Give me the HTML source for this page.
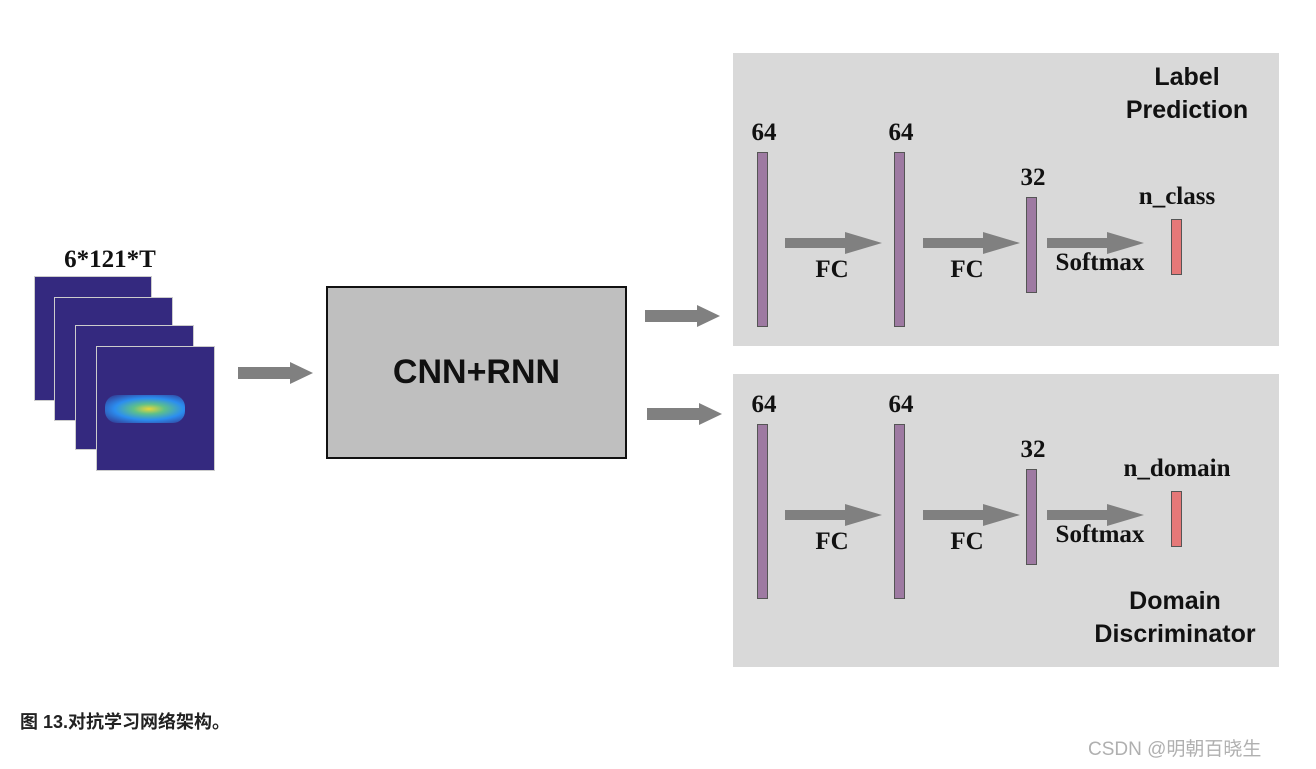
<!DOCTYPE html>
<html><head><meta charset="utf-8"><style>
body{margin:0;background:#fff;width:1316px;height:769px;overflow:hidden;position:relative;font-family:"Liberation Sans","Noto Sans CJK SC",sans-serif}
.a{position:absolute}
.panel{position:absolute;left:733px;width:546px;height:293px;background:#d9d9d9}
.bar{position:absolute;background:#9e7aa2;border:1px solid #555;box-sizing:border-box}
.red{position:absolute;background:#e57878;border:1px solid #555;box-sizing:border-box}
.t{position:absolute;font-family:"Liberation Serif",serif;font-weight:bold;font-size:25px;color:#111;white-space:nowrap;transform:translateX(-50%)}
.h{position:absolute;font-weight:bold;font-size:25px;color:#111;text-align:center;line-height:33px;transform:translateX(-50%)}
.f{position:absolute;background:#34297f;border:1px solid #ccc;box-sizing:border-box;overflow:hidden}
</style></head><body>
<svg class="a" style="left:0;top:0" width="1316" height="769">
<defs><g id="ar"><rect x="0" y="-5" width="74" height="10" fill="#808080"/><polygon points="60,-11 97,0 60,11" fill="#808080"/></g>
<g id="ar2"><rect x="0" y="-6" width="58" height="12" fill="#808080"/><polygon points="52,-11 75,0 52,11" fill="#808080"/></g></defs>
</svg>
<div class="f" style="left:34px;top:276px;width:118px;height:125px"></div>
<div class="f" style="left:54px;top:297px;width:119px;height:124px"></div>
<div class="f" style="left:75px;top:325px;width:119px;height:125px"></div>
<div class="f" style="left:96px;top:346px;width:119px;height:125px">
<div class="a" style="left:8px;top:48px;width:80px;height:28px;border-radius:12px;background:radial-gradient(ellipse at 55% 50%,#e8d63a 0,#5ec08a 25%,#2b8ef0 55%,#34297f 100%)"></div></div>
<div class="t" style="left:110px;top:246px">6*121*T</div>
<svg class="a" style="left:0;top:0" width="1316" height="769">
<g transform="translate(238,373)"><use href="#ar2"/></g>
<g transform="translate(645,316)"><use href="#ar2"/></g>
<g transform="translate(647,414)"><use href="#ar2"/></g>
</svg>
<div class="a" style="left:326px;top:286px;width:301px;height:173px;background:#bfbfbf;border:2px solid #111;box-sizing:border-box;display:flex;align-items:center;justify-content:center;font-weight:bold;font-size:34px;color:#111">CNN+RNN</div>

<div class="panel" style="top:53px"></div>
<div class="panel" style="top:374px"></div>

<!-- top -->
<div class="bar" style="left:757px;top:152px;width:11px;height:175px"></div>
<div class="bar" style="left:894px;top:152px;width:11px;height:175px"></div>
<div class="bar" style="left:1026px;top:197px;width:11px;height:96px"></div>
<div class="red" style="left:1171px;top:219px;width:11px;height:56px"></div>
<div class="t" style="left:764px;top:119px">64</div>
<div class="t" style="left:901px;top:119px">64</div>
<div class="t" style="left:1033px;top:164px">32</div>
<div class="t" style="left:1177px;top:183px">n_class</div>
<div class="t" style="left:832px;top:256px">FC</div>
<div class="t" style="left:967px;top:256px">FC</div>
<div class="t" style="left:1100px;top:249px">Softmax</div>
<div class="h" style="left:1187px;top:61px">Label<br>Prediction</div>
<!-- bottom -->
<div class="bar" style="left:757px;top:424px;width:11px;height:175px"></div>
<div class="bar" style="left:894px;top:424px;width:11px;height:175px"></div>
<div class="bar" style="left:1026px;top:469px;width:11px;height:96px"></div>
<div class="red" style="left:1171px;top:491px;width:11px;height:56px"></div>
<div class="t" style="left:764px;top:391px">64</div>
<div class="t" style="left:901px;top:391px">64</div>
<div class="t" style="left:1033px;top:436px">32</div>
<div class="t" style="left:1177px;top:455px">n_domain</div>
<div class="t" style="left:832px;top:528px">FC</div>
<div class="t" style="left:967px;top:528px">FC</div>
<div class="t" style="left:1100px;top:521px">Softmax</div>
<div class="h" style="left:1175px;top:585px">Domain<br>Discriminator</div>

<svg class="a" style="left:0;top:0" width="1316" height="769">
<g transform="translate(785,243)"><use href="#ar"/></g>
<g transform="translate(923,243)"><use href="#ar"/></g>
<g transform="translate(1047,243)"><use href="#ar"/></g>
<g transform="translate(785,515)"><use href="#ar"/></g>
<g transform="translate(923,515)"><use href="#ar"/></g>
<g transform="translate(1047,515)"><use href="#ar"/></g>
</svg>

<div class="a" style="left:20px;top:708px;font-weight:bold;font-size:18px;color:#222">图 13.对抗学习网络架构。</div>
<div class="a" style="left:1088px;top:734px;font-size:19px;color:#b0b0b0">CSDN @明朝百晓生</div>
</body></html>
